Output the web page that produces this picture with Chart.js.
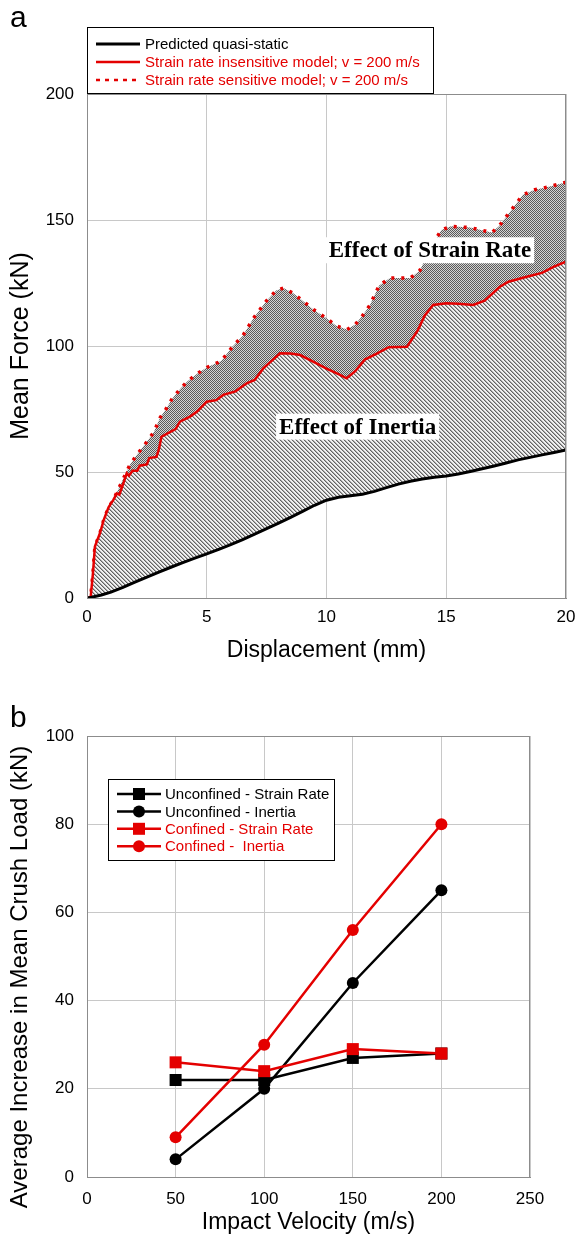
<!DOCTYPE html>
<html>
<head>
<meta charset="utf-8">
<script src="https://cdn.jsdelivr.net/npm/chart.js@4.4.0/dist/chart.umd.min.js"></script>
<style>
  body { margin: 0; background: #fff; }
  .panel { position: absolute; left: 0; width: 576px; }
  #panel-a { top: 0; height: 680px; }
  #panel-b { top: 680px; height: 559px; }
</style>
</head>
<body>
<div class="panel" id="panel-a"><canvas id="force-chart" width="576" height="680"></canvas></div>
<div class="panel" id="panel-b"><canvas id="crush-chart" width="576" height="559"></canvas></div>
<script>
//  DATA - panel a (mean force vs displacement)

const quasiX = [0, 0.2, 0.6, 1, 1.5, 2, 2.5, 3, 3.5, 4, 4.5, 5, 5.5, 6, 6.5, 7, 7.5, 8, 8.5, 9, 9.5,
    10, 10.5, 11, 11.5, 12, 12.5, 13, 13.5, 14, 14.5, 15, 15.5, 16, 16.5, 17, 17.5, 18, 18.5, 19, 19.5, 20];
const quasiForce = [0, 0.3, 1.2, 2.3, 4.2, 6.3, 8.3, 10.3, 12.2, 14, 15.8, 17.5, 19.3, 21.2, 23.2, 25.3, 27.5, 29.7, 32, 34.4, 36.8,
    38.8, 40, 40.6, 41.2, 42.3, 43.8, 45.2, 46.3, 47.2, 47.9, 48.4, 49.2, 50.2, 51.3, 52.4, 53.6, 54.8, 55.8, 56.8, 57.7, 58.7];

const insensX = [0, 0.15, 0.25, 0.33, 0.54, 0.7, 0.9, 1.1, 1.25, 1.35, 1.5, 1.66, 1.75, 1.9, 2.1, 2.2, 2.5, 2.6, 2.9, 3.0, 3.11,
    3.5, 3.7, 3.88, 4.3, 4.6, 5, 5.4, 5.69, 6.2, 6.67, 7.0, 7.36, 7.7, 8.06, 8.5, 8.9, 9.5, 10, 10.5, 10.84,
    11.2, 11.6, 12.1, 12.6, 13.36, 13.8, 14.1, 14.45, 15, 15.5, 16.13, 16.6, 17.24, 17.6, 18.36, 19, 19.5, 20];
const insensForce = [0, 0, 10, 20.4, 25.7, 31, 36, 38.9, 41.5, 41, 45, 49.5, 48.5, 50.5, 50.5, 52.5, 53, 55.5, 56, 59, 64,
    66, 67, 70, 72, 74, 77.9, 78.5, 80.6, 82, 85.2, 86.5, 91.1, 94, 97.1, 97, 96.4, 93.5, 91, 88.8, 87.2,
    90, 94.6, 97, 99.5, 99.7, 106, 112, 116.3, 117, 116.8, 116.3, 118, 123.5, 125.5, 127.5, 129, 131.5, 133.5];

const sensX = [0, 0.15, 0.25, 0.33, 0.54, 0.7, 0.9, 1.1, 1.3, 1.5, 1.8, 2.1, 2.5, 2.8, 3.05, 3.3, 3.55, 3.9, 4.2, 4.6, 5,
    5.6, 6.1, 6.5, 6.95, 7.5, 7.9, 8.2, 8.6, 9.0, 9.45, 10, 10.4, 10.85, 11.2, 11.5, 11.8, 12.2, 12.65, 13.5, 13.9,
    14.4, 14.8, 15.2, 16, 16.9, 17.2, 17.8, 18.2, 18.7, 19.2, 20];
const sensForce = [0, 0, 10, 20.4, 25.7, 31, 36, 38.9, 43, 47, 53, 57, 62, 66, 71.5, 75, 79, 83, 86, 89, 91.5,
    94, 100, 104, 111, 118, 122, 123, 121, 118, 114.5, 111, 108, 106.5, 108.5, 112, 116, 124, 127, 127, 130,
    140, 146, 147.5, 147, 145, 147.5, 155, 160, 162, 163, 165];

const forceTicks = { min: 0, max: 200, step: 50 };
const dispTicks = { min: 0, max: 20, step: 5 };

//  DATA - panel b (increase in mean crush load vs impact velocity)

const velocity = [50, 100, 150, 200];
const unconfinedStrainRate = [22, 22, 27, 28];
const unconfinedInertia = [4, 20, 44, 65];
const confinedStrainRate = [26, 24, 29, 28];
const confinedInertia = [9, 30, 56, 80];

const loadTicks = { min: 0, max: 100, step: 20 };
const velTicks = { min: 0, max: 250, step: 50 };

const RED = '#e40000';
const FONT = 'Liberation Sans, Arial, sans-serif';
Chart.defaults.font.family = FONT;
Chart.defaults.color = '#000';

function pts(xs, ys) {
    return xs.map(function (x, i) { return { x: x, y: ys[i] }; });
}

// hatch fills
function makePattern(size, bg, marks) {
    var c = document.createElement('canvas');
    c.width = size; c.height = size;
    var g = c.getContext('2d');
    g.fillStyle = bg;
    g.fillRect(0, 0, size, size);
    marks.forEach(function (m) {
        g.fillStyle = m[2];
        g.fillRect(m[0], m[1], 1, 1);
    });
    return g.createPattern(c, 'repeat');
}
var ctxA = document.getElementById('force-chart').getContext('2d');
var diagMarks = [];
for (var i = 0; i < 4; i++) {
    diagMarks.push([i, i, '#626262']);
    diagMarks.push([(i + 1) % 4, i, '#ababab']);
}
var inertiaHatch = makePattern(4, '#f0f0f0', diagMarks);
var strainHatch = makePattern(2, '#d4d4d4', [[0, 0, '#5a5a5a'], [1, 1, '#5a5a5a']]);

function axisStyle(t, fontSize, pad) {
    return {
        type: 'linear',
        min: t.min, max: t.max,
        ticks: { stepSize: t.step, color: '#000', padding: pad, font: { size: fontSize } },
        grid: { color: '#c8c8c8', drawTicks: false },
        border: { color: '#8c8c8c' }
    };
}

// legend box, frame, labels
var panelDecor = {
    id: 'panelDecor',
    afterDatasetsDraw: function (chart, args, opts) {
        var c = chart.ctx, a = chart.chartArea;
        c.save();
        c.strokeStyle = '#8c8c8c';
        c.lineWidth = 1;
        c.strokeRect(a.left + 0.5, a.top + 0.5, a.right - a.left - 1, a.bottom - a.top);
        (opts.notes || []).forEach(function (n) {
            var x = chart.scales.x.getPixelForValue(n.x);
            var y = chart.scales.y.getPixelForValue(n.y);
            c.font = 'bold 23px Liberation Serif, Times New Roman, serif';
            var w = c.measureText(n.text).width;
            c.fillStyle = '#fff';
            c.fillRect(x - w / 2 - 3, y - 13, w + 6, 26);
            c.fillStyle = '#000';
            c.textAlign = 'center';
            c.textBaseline = 'middle';
            c.fillText(n.text, x, y + 1);
        });
        c.restore();
    },
    afterDraw: function (chart, args, opts) {
        var c = chart.ctx, L = opts.legend;
        c.save();
        c.font = '30px ' + FONT;
        c.fillStyle = '#000';
        c.textBaseline = 'alphabetic';
        c.fillText(opts.tag, 10, opts.tagY);

        // y axis title drawn off-centre, lower than the plot middle
        if (opts.yTitle) {
            var t = opts.yTitle;
            c.save();
            c.translate(t.x, t.y);
            c.rotate(-Math.PI / 2);
            c.font = t.size + 'px ' + FONT;
            c.textAlign = 'center';
            c.textBaseline = 'middle';
            c.fillText(t.text, 0, 0);
            c.restore();
        }

        c.fillStyle = '#fff';
        c.fillRect(L.x, L.y, L.w, L.h);
        c.strokeStyle = '#000';
        c.lineWidth = 1;
        c.strokeRect(L.x + 0.5, L.y + 0.5, L.w, L.h);
        c.font = '15px ' + FONT;
        c.textBaseline = 'middle';
        chart.data.datasets.forEach(function (ds, i) {
            var y = L.y + L.first + i * L.gap;
            c.strokeStyle = ds.borderColor;
            c.lineWidth = ds.legendWidth || 2.5;
            c.setLineDash(ds.legendDash || []);
            c.beginPath();
            c.moveTo(L.x + L.lineFrom, y);
            c.lineTo(L.x + L.lineTo, y);
            c.stroke();
            c.setLineDash([]);
            if (ds.pointRadius) {
                var mx = L.x + (L.lineFrom + L.lineTo) / 2;
                c.fillStyle = ds.borderColor;
                if (ds.pointStyle === 'rect') {
                    c.fillRect(mx - 6, y - 6, 12, 12);
                } else {
                    c.beginPath();
                    c.arc(mx, y, 6, 0, Math.PI * 2);
                    c.fill();
                }
            }
            c.fillStyle = ds.borderColor;
            c.fillText(ds.label, L.x + L.textX, y + 1);
        });
        c.restore();
    }
};

//  PANEL A
var forceX = axisStyle(dispTicks, 17, 9);
forceX.title = { display: true, text: 'Displacement (mm)', color: '#000', font: { size: 23 }, padding: { top: 0, bottom: 16 } };
forceX.afterFit = function (s) { s.height = 82; s.paddingLeft = 0; s.paddingRight = 0; };
var forceY = axisStyle(forceTicks, 17, 13);
forceY.title = { display: true, text: 'Mean Force (kN)', color: '#000', font: { size: 25 }, padding: { top: 6, bottom: 0 } };
forceY.afterFit = function (s) { s.width = 87; };

var forceChart = new Chart(ctxA, {
    type: 'line',
    data: {
        datasets: [{
            label: 'Predicted quasi-static',
            data: pts(quasiX, quasiForce),
            borderColor: '#000',
            borderWidth: 3,
            legendWidth: 3,
            fill: false
        }, {
            label: 'Strain rate insensitive model; v = 200 m/s',
            data: pts(insensX, insensForce),
            borderColor: RED,
            borderWidth: 2.5,
            fill: { target: 0 },
            backgroundColor: inertiaHatch
        }, {
            label: 'Strain rate sensitive model; v = 200 m/s',
            data: pts(sensX, sensForce),
            borderColor: RED,
            borderWidth: 3.5,
            borderDash: [3, 7],
            legendDash: [4, 5],
            fill: { target: 1 },
            backgroundColor: strainHatch
        }]
    },
    options: {
        responsive: false,
        animation: false,
        layout: { padding: { top: 94, right: 10, left: 0, bottom: 0 } },
        elements: { point: { radius: 0 }, line: { tension: 0 } },
        plugins: {
            legend: { display: false },
            tooltip: { enabled: false },
            panelDecor: {
                tag: 'a', tagY: 27,
                legend: { x: 87, y: 27, w: 346, h: 66, first: 17, gap: 18, lineFrom: 9, lineTo: 53, textX: 58 },
                notes: [
                    { text: 'Effect of Strain Rate', x: 14.32, y: 138 },
                    { text: 'Effect of Inertia', x: 11.3, y: 68 }
                ]
            }
        },
        scales: { x: forceX, y: forceY }
    },
    plugins: [panelDecor]
});

//  PANEL B
var velX = axisStyle(velTicks, 17, 12);
velX.title = { display: true, text: 'Impact Velocity (m/s)', color: '#000', font: { size: 23 }, padding: { top: 0, bottom: 3 } };
velX.afterFit = function (s) { s.height = 62; };
var loadY = axisStyle(loadTicks, 17, 13);
loadY.afterFit = function (s) { s.width = 87; };

function series(label, ys, color, style, order) {
    return {
        label: label,
        data: pts(velocity, ys),
        borderColor: color,
        backgroundColor: color,
        borderWidth: 2.5,
        pointStyle: style,
        pointRadius: style === 'rect' ? 8.5 : 6,
        pointBorderWidth: 0,
        order: order
    };
}

var crushChart = new Chart(document.getElementById('crush-chart'), {
    type: 'line',
    data: {
        datasets: [
            series('Unconfined - Strain Rate', unconfinedStrainRate, '#000', 'rect', 2),
            series('Unconfined - Inertia', unconfinedInertia, '#000', 'circle', 3),
            series('Confined - Strain Rate', confinedStrainRate, RED, 'rect', 0),
            series('Confined -  Inertia', confinedInertia, RED, 'circle', 1)
        ]
    },
    options: {
        responsive: false,
        animation: false,
        layout: { padding: { top: 56, right: 46, left: 0, bottom: 0 } },
        elements: { line: { tension: 0 } },
        plugins: {
            legend: { display: false },
            tooltip: { enabled: false },
            panelDecor: {
                tag: 'b', tagY: 47,
                yTitle: { text: 'Average Increase in Mean Crush Load (kN)', x: 20, y: 297, size: 24 },
                legend: { x: 108, y: 99, w: 226, h: 81, first: 15, gap: 17.4, lineFrom: 9, lineTo: 53, textX: 57 }
            }
        },
        scales: { x: velX, y: loadY }
    },
    plugins: [panelDecor]
});
</script>
</body>
</html>
